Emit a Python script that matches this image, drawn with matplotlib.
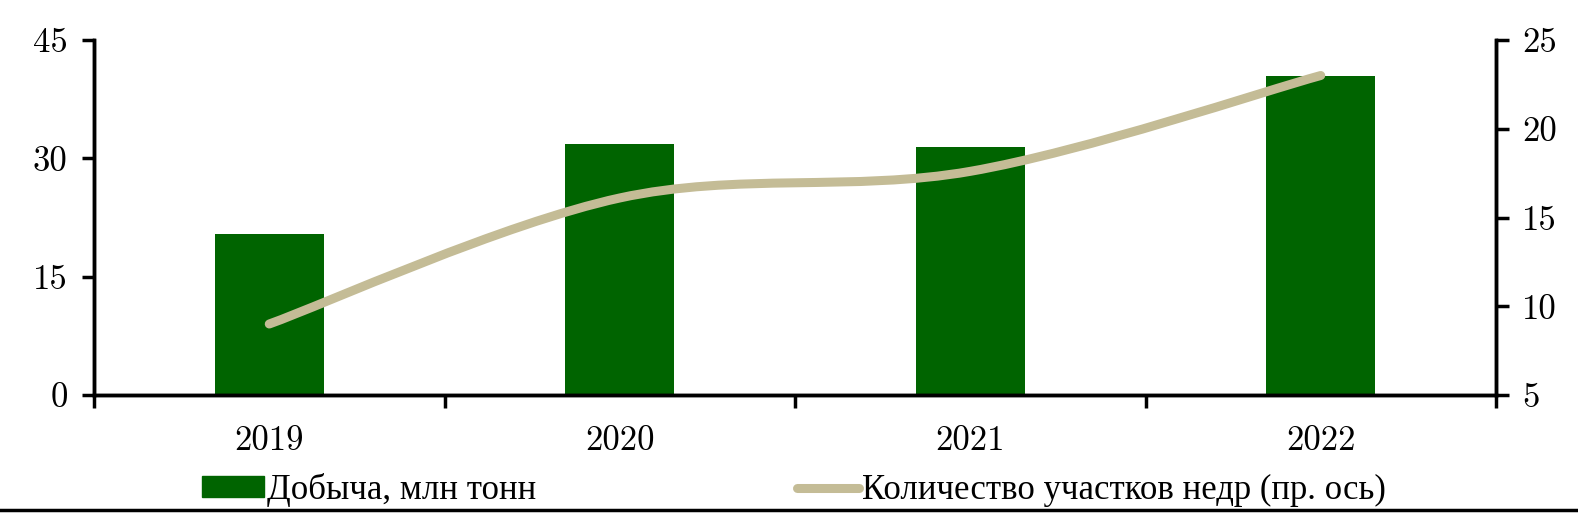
import matplotlib
matplotlib.use("Agg")
import matplotlib.pyplot as plt
import numpy as np
from matplotlib.path import Path
from matplotlib.patches import PathPatch
from matplotlib.lines import Line2D
from matplotlib.patches import Patch

years = ["2019", "2020", "2021", "2022"]
output = [20.4, 31.8, 31.4, 40.4]          # Добыча, млн тонн
plots = [9.0, 16.1, 17.6, 23.0]            # Количество участков недр (пр. ось)

green = "#006400"
beige = "#C4BC96"
num_font = ["cmr10", "DejaVu Serif"]
txt_font = ["Liberation Serif", "DejaVu Serif"]
fs = 25

fig = plt.figure(figsize=(15.78, 5.13), dpi=100)
ax = fig.add_axes([94/1578, 1 - 395/513, (1496 - 94)/1578, (395 - 40)/513])
ax2 = ax.twinx()

x = np.arange(len(years)) + 0.5
ax.bar(x, output, width=0.31, color=green, zorder=2)
ax.set_xlim(0, 4)
ax.set_ylim(0, 45)
ax.set_yticks([0, 15, 30, 45])
ax.set_yticklabels(["0", "15", "30", "45"], fontfamily=num_font, fontsize=fs)
ax.set_xticks([0, 1, 2, 3, 4])
ax.set_xticklabels([])
ax.set_xticks(x, minor=True)
ax.set_xticklabels(years, minor=True, fontfamily=num_font, fontsize=fs)
ax.tick_params(axis="x", which="minor", length=0, pad=22)
ax.tick_params(axis="x", which="major", length=9, width=2.5, direction="out")
ax.tick_params(axis="y", length=9, width=2.5, pad=10)

# smooth line (Excel-like) from the data points via cubic bezier
ax2.set_ylim(5, 25)
ax2.set_yticks([5, 10, 15, 20, 25])
ax2.set_yticklabels(["5", "10", "15", "20", "25"], fontfamily=num_font, fontsize=fs)
ax2.tick_params(axis="y", length=9, width=2.5, pad=10)
pts = np.column_stack([x, plots])
verts = [tuple(pts[0])]
codes = [Path.MOVETO]
t = 1/6
for i in range(len(pts) - 1):
    p0 = pts[max(i - 1, 0)]
    p1 = pts[i]
    p2 = pts[i + 1]
    p3 = pts[min(i + 2, len(pts) - 1)]
    c1 = p1 + (p2 - p0) * t
    c2 = p2 - (p3 - p1) * t
    verts += [tuple(c1), tuple(c2), tuple(p2)]
    codes += [Path.CURVE4] * 3
ax2.add_patch(PathPatch(Path(verts, codes), facecolor="none", edgecolor=beige,
                        lw=6.5, capstyle="round", zorder=3))

for a in (ax, ax2):
    a.spines["top"].set_visible(False)
    for s in ("left", "right", "bottom"):
        a.spines[s].set_linewidth(2.5)

handles = [Patch(color=green), Line2D([], [], color=beige, lw=6.5, solid_capstyle="round")]
labels = ["Добыча, млн тонн", "Количество участков недр (пр. ось)"]
fig.legend(handles, labels, loc="center", bbox_to_anchor=(794/1578, 1 - 490/513), ncol=2,
           frameon=False, prop={"family": txt_font, "size": fs}, handlelength=1.8,
           handleheight=0.55, handletextpad=0.08, columnspacing=7.5, borderaxespad=0)

fig.add_artist(Line2D([0, 1], [1 - 510/513, 1 - 510/513], color="black", lw=2.5,
                      transform=fig.transFigure))

fig.savefig("out.png", dpi=100)
